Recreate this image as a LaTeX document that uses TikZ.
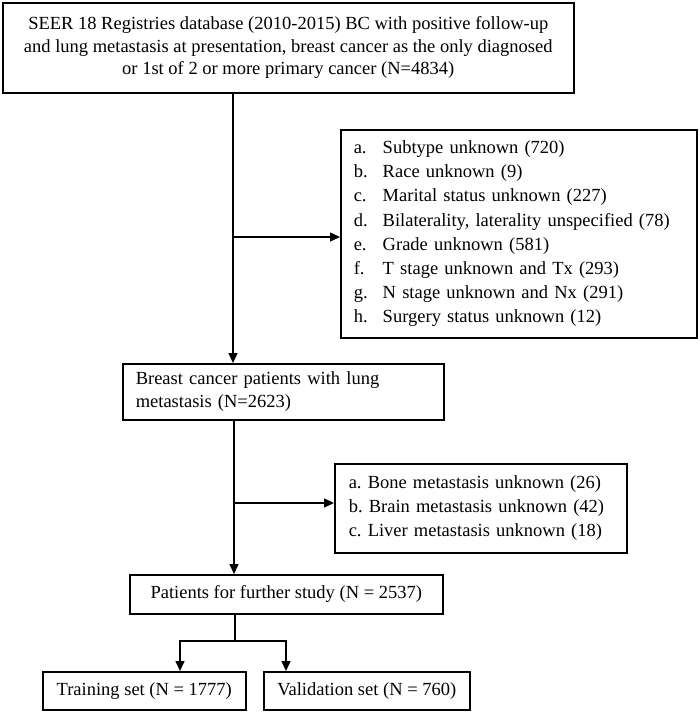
\documentclass[tikz,border=0pt]{standalone}
\usepackage{fontspec}
\setmainfont{Liberation Serif}
\usetikzlibrary{arrows.meta}
\frenchspacing
\newcommand{\itm}[2]{\makebox[29pt][l]{#1}#2}

\begin{document}
\begin{tikzpicture}[x=1pt,y=-1pt,
    box/.style={draw,line width=1.5pt,inner sep=0pt,anchor=north west,
      font=\fontsize{18.5}{22.5}\selectfont},
    lbox/.style={box,align=left,inner xsep=13pt},
    arr/.style={line width=1.5pt,-{Triangle[length=10pt,width=9pt]}}]
  \useasboundingbox (0,0) rectangle (700,712);
  % main column
  \node[box,minimum width=571pt,minimum height=90pt,align=center] (seer) at (2,2)
    {SEER 18 Registries database (2010-2015) BC with positive follow-up\\
     and lung metastasis at presentation, breast cancer as the only diagnosed\\
     or 1st of 2 or more primary cancer (N=4834)};
  \node[lbox,text width=295pt,minimum height=56pt] (lung) at (122,363)
    {Breast cancer patients with lung\\ metastasis (N=2623)};
  \node[box,minimum width=313pt,minimum height=39pt] (study) at (129,574)
    {Patients for further study (N = 2537)};
  \node[box,minimum width=203pt,minimum height=38pt] (train) at (42,671)
    {Training set (N = 1777)};
  \node[box,minimum width=206pt,minimum height=38pt] (valid) at (263,671)
    {Validation set (N = 760)};
  % excluded
  \node[lbox,text width=330pt,minimum height=208pt,
        font=\fontsize{18.5}{24.2}\selectfont] (excl1) at (340,129)
    {\itm{a.}{Subtype unknown (720)}\\
     \itm{b.}{Race unknown (9)}\\
     \itm{c.}{Marital status unknown (227)}\\
     \itm{d.}{Bilaterality, laterality unspecified (78)}\\
     \itm{e.}{Grade unknown (581)}\\
     \itm{f.}{T stage unknown and Tx (293)}\\
     \itm{g.}{N stage unknown and Nx (291)}\\
     \itm{h.}{Surgery status unknown (12)}};
  \node[lbox,inner xsep=14pt,text width=264pt,minimum height=89pt,
        font=\fontsize{18.5}{24}\selectfont] (excl2) at (334,463)
    {a. Bone metastasis unknown (26)\\
     b. Brain metastasis unknown (42)\\
     c. Liver metastasis unknown (18)};
  % connectors
  \coordinate (j1) at (233,237);
  \coordinate (j2) at (234,503);
  \coordinate (j3) at (235,641);
  \coordinate (jl) at (180,641);
  \coordinate (jr) at (286,641);
  \draw[arr] (seer.south -| j1) -- (lung.north -| j1);
  \draw[arr] (j1) -- (excl1.west |- j1);
  \draw[arr] (lung.south -| j2) -- (study.north -| j2);
  \draw[arr] (j2) -- (excl2.west |- j2);
  \draw[line width=1.5pt] (study.south -| j3) -- (j3);
  \draw[arr] (j3) -- (jl) -- (train.north -| jl);
  \draw[arr] (j3) -- (jr) -- (valid.north -| jr);
\end{tikzpicture}
\end{document}
